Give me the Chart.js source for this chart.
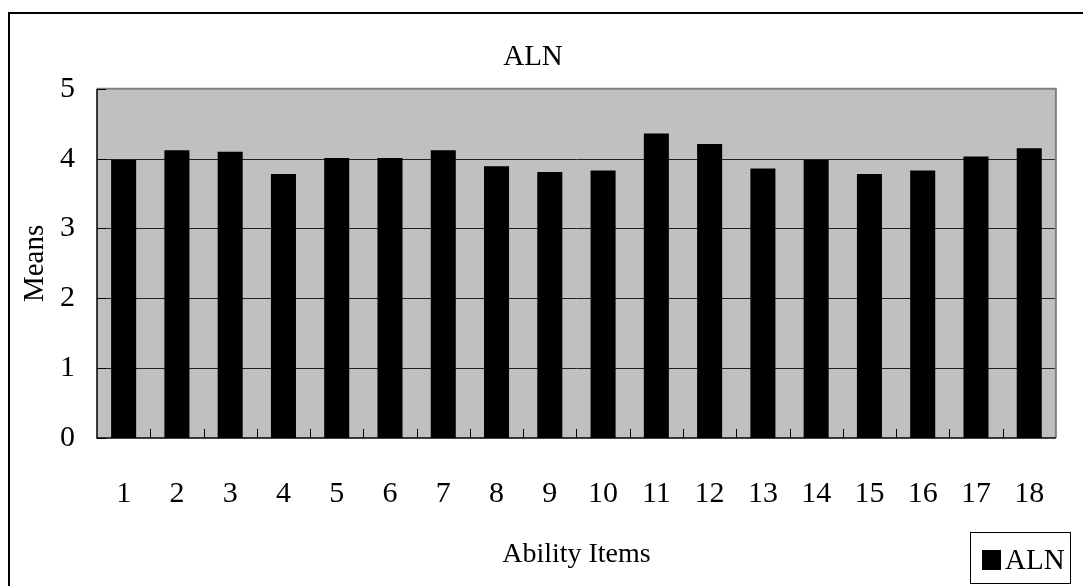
<!DOCTYPE html>
<html>
<head>
<meta charset="utf-8">
<script src="https://cdn.jsdelivr.net/npm/chart.js@4.4.1/dist/chart.umd.min.js"></script>
<style>
  html, body { margin: 0; padding: 0; background: #fff; overflow: hidden; }
  #wrap { position: relative; width: 1083px; height: 586px; }
  #frame { position: absolute; left: 8px; top: 12px; width: 1100px; height: 600px; border: 2px solid #000; }
  #chart { position: absolute; left: 0; top: 0; }
</style>
</head>
<body>
<div id="wrap">
  <div id="frame"></div>
  <canvas id="chart" width="1083" height="586"></canvas>
</div>
<script>
// data
const items = ["1","2","3","4","5","6","7","8","9","10","11","12","13","14","15","16","17","18"];
const alnMeans = [3.98, 4.12, 4.10, 3.78, 4.01, 4.01, 4.12, 3.89, 3.81, 3.83, 4.36, 4.21, 3.86, 3.98, 3.78, 3.83, 4.03, 4.15];
const seriesName = "ALN";
const yTicks = [0, 1, 2, 3, 4, 5];

const FONT = "'Liberation Serif', 'Times New Roman', serif";

// gray plot background, gray top/right edge, inward tick marks
const plotFrame = {
    id: 'plotFrame',
    beforeDatasetsDraw(chart) {
        const { ctx, chartArea: a } = chart;
        ctx.save();
        ctx.fillStyle = '#c0c0c0';
        ctx.fillRect(a.left, a.top, a.right - a.left, a.bottom - a.top);
        // grid lines at the y ticks
        const y = chart.scales.y;
        ctx.strokeStyle = '#222';
        ctx.lineWidth = 1;
        yTicks.forEach(v => {
            if (v === 0 || v === 5) return;
            const py = Math.round(y.getPixelForValue(v)) + 0.5;
            ctx.beginPath(); ctx.moveTo(a.left, py); ctx.lineTo(a.right, py); ctx.stroke();
        });
        ctx.restore();
    },
    afterDatasetsDraw(chart) {
        const { ctx, chartArea: a } = chart;
        const x = chart.scales.x, y = chart.scales.y;
        ctx.save();
        // top and right edge
        ctx.strokeStyle = '#808080';
        ctx.lineWidth = 2;
        ctx.beginPath();
        ctx.moveTo(a.left, a.top); ctx.lineTo(a.right, a.top); ctx.lineTo(a.right, a.bottom);
        ctx.stroke();
        // left and bottom axis
        ctx.strokeStyle = '#000';
        ctx.lineWidth = 1.5;
        ctx.beginPath();
        ctx.moveTo(a.left, a.top); ctx.lineTo(a.left, a.bottom); ctx.lineTo(a.right, a.bottom);
        ctx.stroke();
        // inward ticks
        ctx.lineWidth = 1;
        ctx.strokeStyle = '#000';
        yTicks.forEach(v => {
            const py = Math.round(y.getPixelForValue(v)) + 0.5;
            ctx.beginPath(); ctx.moveTo(a.left, py); ctx.lineTo(a.left + 9, py); ctx.stroke();
        });
        for (let i = 0; i < items.length - 1; i++) {
            const px = Math.round((x.getPixelForValue(i) + x.getPixelForValue(i + 1)) / 2) + 0.5;
            ctx.beginPath(); ctx.moveTo(px, a.bottom); ctx.lineTo(px, a.bottom - 9); ctx.stroke();
        }
        ctx.restore();
    },
    afterDraw(chart) {
        // legend box in the lower right corner
        const { ctx } = chart;
        const ds = chart.data.datasets[0];
        ctx.save();
        ctx.fillStyle = '#fff';
        ctx.fillRect(970, 532, 101, 52);
        ctx.strokeStyle = '#000';
        ctx.lineWidth = 1;
        ctx.strokeRect(970.5, 532.5, 100, 51);
        ctx.fillStyle = ds.backgroundColor;
        ctx.fillRect(982, 550, 19, 20);
        ctx.fillStyle = '#000';
        ctx.font = "29px " + FONT;
        ctx.textBaseline = 'middle';
        ctx.textAlign = 'left';
        ctx.fillText(ds.label, 1005, 561);
        ctx.restore();
    }
};

new Chart(document.getElementById('chart'), {
    type: 'bar',
    data: {
        labels: items,
        datasets: [{
            label: seriesName,
            data: alnMeans,
            backgroundColor: '#000',
            borderColor: '#111',
            borderWidth: 0,
            barPercentage: 0.47,
            categoryPercentage: 1.0
        }]
    },
    options: {
        responsive: false,
        animation: false,
        devicePixelRatio: 1,
        layout: { padding: { left: 10, right: 27, top: 40, bottom: 0 } },
        plugins: {
            legend: { display: false },
            tooltip: { enabled: false },
            title: {
                display: true,
                text: seriesName,
                color: '#000',
                font: { family: FONT, size: 29, weight: 'normal' },
                padding: { top: 0, bottom: 14 }
            }
        },
        scales: {
            x: {
                grid: { display: false, drawTicks: false },
                border: { display: false },
                ticks: { color: '#000', font: { family: FONT, size: 30 }, padding: 38, maxRotation: 0, autoSkip: false },
                title: {
                    display: true, text: 'Ability Items', color: '#000',
                    font: { family: FONT, size: 28 }, padding: { top: 0, bottom: 15 }
                },
                afterFit(scale) { scale.height = 148; }
            },
            y: {
                min: 0, max: 5,
                grid: { display: false, drawTicks: false },
                border: { display: false },
                ticks: { stepSize: 1, color: '#000', font: { family: FONT, size: 30 }, padding: 22 },
                title: {
                    display: true, text: 'Means', color: '#000',
                    font: { family: FONT, size: 29 }, padding: { top: 8, bottom: 0 }
                },
                afterFit(scale) { scale.width = 87; }
            }
        }
    },
    plugins: [plotFrame]
});
</script>
</body>
</html>
